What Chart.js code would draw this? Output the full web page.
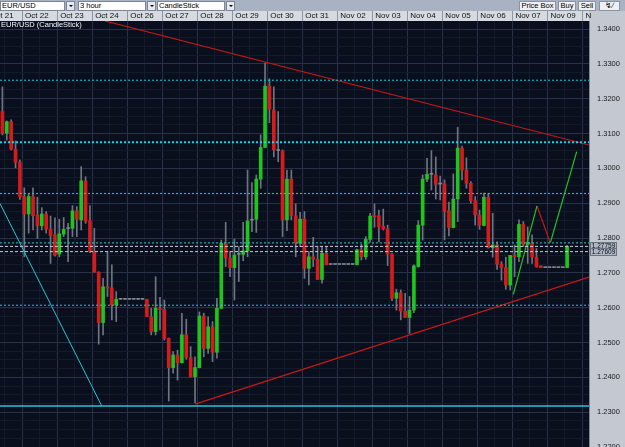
<!DOCTYPE html>
<html>
<head>
<meta charset="utf-8">
<script src="https://cdn.jsdelivr.net/npm/chart.js@4.4.1/dist/chart.umd.min.js"></script>
<style>
  body { margin: 0; width: 625px; height: 447px; overflow: hidden; background: #c3c8d1; font-family: "Liberation Sans", Arial, sans-serif; }
  #toolbar { position: absolute; left: 0; top: 0; width: 625px; height: 11px; background: #a9b2c2; }
  .combo { position: absolute; top: 1px; height: 10px; background: #fff; border: 1px solid #7d8698; box-sizing: border-box; font-size: 7.5px; line-height: 8px; padding-left: 1px; color: #000; white-space: nowrap; }
  .arrow { position: absolute; top: 1px; width: 9px; height: 10px; background: #e6e9ee; border: 1px solid #7d8698; box-sizing: border-box; }
  .arrow:after { content: ''; position: absolute; left: 2px; top: 3px; border-left: 2px solid transparent; border-right: 2px solid transparent; border-top: 2px solid #000; }
  .btn { position: absolute; top: 1px; height: 10px; background: #eef0f4; border: 1px solid #8a93a4; box-sizing: border-box; font-size: 7.5px; line-height: 8px; text-align: center; color: #000; white-space: nowrap; }
  #wrap { position: absolute; left: 0; top: 11px; width: 625px; height: 436px; }
  #caption { position: absolute; left: 1px; top: 21px; font-size: 7.5px; line-height: 8px; color: #f2f4f8; white-space: nowrap; }
</style>
</head>
<body>
<div id="toolbar">
  <div class="combo" style="left:0;width:65px">EUR/USD</div><div class="arrow" style="left:66px"></div>
  <div class="combo" style="left:78px;width:68px">3 hour</div><div class="arrow" style="left:147px"></div>
  <div class="combo" style="left:157px;width:68px">CandleStick</div><div class="arrow" style="left:226px"></div>
  <div class="btn" style="left:519px;width:37px">Price Box</div>
  <div class="btn" style="left:558px;width:18px">Buy</div>
  <div class="btn" style="left:578px;width:18px">Sell</div>
  <div class="btn" style="left:599px;width:21px">&#8623;&#8725;</div>
</div>
<div id="wrap"><canvas id="chart" width="625" height="436"></canvas></div>
<div id="caption">EUR/USD (CandleStick)</div>
<script>
// 3-hour candles, EUR/USD
const opens = [
  1.3163, 1.3101, 1.3134, 1.3055, 1.3017, 1.2919, 1.2869, 1.2919, 1.2866, 1.2835,
  1.2869, 1.2826, 1.2809, 1.2754, 1.2811, 1.2827, 1.2828, 1.2878, 1.2852, 1.2964,
  1.2850, 1.2761, 1.2702, 1.2557, 1.2660, 1.2657, 1.2608, 1.2624, 1.2624, 1.2624,
  1.2624, 1.2624, 1.2624, 1.2624, 1.2574, 1.2531, 1.2598, 1.2595, 1.2512, 1.2428,
  1.2464, 1.2442, 1.2522, 1.2457, 1.2402, 1.2428, 1.2576, 1.2483, 1.2545, 1.2472,
  1.2598, 1.2785, 1.2742, 1.2715, 1.2753, 1.2753, 1.2763, 1.2851, 1.2854, 1.2969,
  1.3060, 1.3236, 1.3168, 1.3051, 1.3050, 1.2852, 1.2969, 1.2864, 1.2785, 1.2854,
  1.2713, 1.2746, 1.2739, 1.2681, 1.2756, 1.2724, 1.2724, 1.2724, 1.2724, 1.2724,
  1.2724, 1.2723, 1.2766, 1.2746, 1.2796, 1.2863, 1.2864, 1.2834, 1.2826, 1.2754,
  1.2627, 1.2643, 1.2590, 1.2572, 1.2593, 1.2718, 1.2837, 1.2969, 1.2983, 1.2981,
  1.2955, 1.2955, 1.2878, 1.2830, 1.2912, 1.3058, 1.2995, 1.2957, 1.2907, 1.2866,
  1.2836, 1.2917, 1.2772, 1.2780, 1.2725, 1.2715, 1.2665, 1.2750, 1.2746, 1.2839,
  1.2782, 1.2785, 1.2745, 1.2720, 1.2715, 1.2715, 1.2715, 1.2715, 1.2715, 1.2715
];
const highs = [
  1.3234, 1.3136, 1.3139, 1.3079, 1.3024, 1.2944, 1.2926, 1.2944, 1.2917, 1.2887,
  1.2876, 1.2863, 1.2858, 1.2854, 1.2859, 1.2842, 1.2893, 1.2890, 1.3005, 1.2976,
  1.2893, 1.2828, 1.2703, 1.2684, 1.2761, 1.2723, 1.2646, 1.2624, 1.2624, 1.2624,
  1.2624, 1.2624, 1.2624, 1.2624, 1.2598, 1.2689, 1.2630, 1.2622, 1.2513, 1.2474,
  1.2478, 1.2584, 1.2567, 1.2488, 1.2459, 1.2588, 1.2584, 1.2574, 1.2560, 1.2627,
  1.2794, 1.2845, 1.2761, 1.2797, 1.2775, 1.2845, 1.2995, 1.2959, 1.2981, 1.3096,
  1.3302, 1.3257, 1.3234, 1.3163, 1.3053, 1.2995, 1.2995, 1.2898, 1.2874, 1.2876,
  1.2761, 1.2802, 1.2775, 1.2775, 1.2775, 1.2724, 1.2724, 1.2724, 1.2724, 1.2724,
  1.2724, 1.2768, 1.2782, 1.2804, 1.2871, 1.2898, 1.2880, 1.2883, 1.2837, 1.2755,
  1.2653, 1.2651, 1.2641, 1.2632, 1.2723, 1.2850, 1.2981, 1.3029, 1.3051, 1.3033,
  1.2978, 1.2967, 1.2903, 1.2984, 1.3118, 1.3064, 1.3030, 1.2962, 1.2919, 1.2880,
  1.2929, 1.2928, 1.2871, 1.2789, 1.2732, 1.2745, 1.2750, 1.2780, 1.2852, 1.2847,
  1.2832, 1.2809, 1.2770, 1.2720, 1.2715, 1.2715, 1.2715, 1.2715, 1.2715, 1.2778
];
const lows = [
  1.3096, 1.3081, 1.3053, 1.3002, 1.2911, 1.2746, 1.2814, 1.2823, 1.2799, 1.2823,
  1.2814, 1.2727, 1.2748, 1.2746, 1.2804, 1.2732, 1.2804, 1.2804, 1.2823, 1.2842,
  1.2758, 1.2702, 1.2495, 1.2522, 1.2632, 1.2565, 1.2560, 1.2624, 1.2624, 1.2624,
  1.2624, 1.2624, 1.2624, 1.2574, 1.2522, 1.2522, 1.2536, 1.2507, 1.2332, 1.2412,
  1.2392, 1.2441, 1.2452, 1.2401, 1.2327, 1.2427, 1.2459, 1.2469, 1.2445, 1.2455,
  1.2597, 1.2718, 1.2689, 1.2622, 1.2675, 1.2735, 1.2746, 1.2818, 1.2816, 1.2943,
  1.3059, 1.3131, 1.3033, 1.3019, 1.2804, 1.2821, 1.2852, 1.2746, 1.2775, 1.2684,
  1.2665, 1.2718, 1.2681, 1.2670, 1.2723, 1.2724, 1.2724, 1.2724, 1.2724, 1.2724,
  1.2724, 1.2723, 1.2737, 1.2739, 1.2789, 1.2831, 1.2789, 1.2823, 1.2721, 1.2620,
  1.2593, 1.2565, 1.2572, 1.2526, 1.2586, 1.2716, 1.2794, 1.2962, 1.2938, 1.2912,
  1.2909, 1.2794, 1.2806, 1.2829, 1.2847, 1.2967, 1.2943, 1.2900, 1.2837, 1.2825,
  1.2835, 1.2771, 1.2745, 1.2710, 1.2679, 1.2653, 1.2651, 1.2689, 1.2732, 1.2775,
  1.2727, 1.2727, 1.2716, 1.2715, 1.2715, 1.2715, 1.2715, 1.2715, 1.2715, 1.2715
];
const closes = [
  1.3101, 1.3134, 1.3055, 1.3017, 1.2919, 1.2869, 1.2919, 1.2864, 1.2835, 1.2869,
  1.2826, 1.2807, 1.2751, 1.2812, 1.2825, 1.2827, 1.2878, 1.2854, 1.2964, 1.2849,
  1.2761, 1.2702, 1.2557, 1.2660, 1.2656, 1.2608, 1.2624, 1.2624, 1.2624, 1.2624,
  1.2624, 1.2624, 1.2624, 1.2574, 1.2531, 1.2598, 1.2595, 1.2512, 1.2428, 1.2464,
  1.2442, 1.2522, 1.2457, 1.2402, 1.2428, 1.2576, 1.2483, 1.2545, 1.2472, 1.2598,
  1.2785, 1.2742, 1.2715, 1.2751, 1.2753, 1.2763, 1.2849, 1.2851, 1.2969, 1.3060,
  1.3236, 1.3170, 1.3053, 1.3051, 1.2852, 1.2969, 1.2864, 1.2785, 1.2854, 1.2713,
  1.2746, 1.2739, 1.2681, 1.2756, 1.2723, 1.2724, 1.2724, 1.2724, 1.2724, 1.2724,
  1.2724, 1.2766, 1.2746, 1.2796, 1.2863, 1.2861, 1.2832, 1.2826, 1.2754, 1.2627,
  1.2643, 1.2590, 1.2572, 1.2593, 1.2720, 1.2837, 1.2969, 1.2983, 1.2983, 1.2954,
  1.2955, 1.2876, 1.2830, 1.2912, 1.3058, 1.2995, 1.2957, 1.2907, 1.2866, 1.2837,
  1.2917, 1.2772, 1.2780, 1.2725, 1.2715, 1.2665, 1.2750, 1.2746, 1.2839, 1.2782,
  1.2787, 1.2745, 1.2718, 1.2715, 1.2715, 1.2715, 1.2715, 1.2715, 1.2715, 1.2776
];

// first candle index of each day and its header label
const dayStarts = [-3, 5, 13, 21, 29, 37, 45, 53, 61, 69, 77, 85, 93, 101, 109, 117, 125, 133];
const dayLabels = ['Oct 21', 'Oct 22', 'Oct 23', 'Oct 24', 'Oct 26', 'Oct 27', 'Oct 28', 'Oct 29', 'Oct 30',
                   'Oct 31', 'Nov 02', 'Nov 03', 'Nov 04', 'Nov 05', 'Nov 06', 'Nov 07', 'Nov 09', 'N'];

// drawn horizontal levels
const cyanLevels = [1.3253, 1.2928, 1.2786, 1.2607];
const cyanStrong = [1.3075];
const supportLevel = [1.2318];
const priceMarks = [1.27759, 1.27609];

// drawn trend lines: [candle index, price]
const upperTrend = [[23.44, 1.3423], [134, 1.3067]];
const lowerTrend = [[43.99, 1.2323], [134, 1.2688]];
const cyanTrend = [[-0.55, 1.2899], [22.68, 1.2318]];
const zigzagUp1 = [[116.71, 1.2638], [122.12, 1.2892]];
const zigzagDown = [[122.12, 1.2892], [125.16, 1.2786]];
const zigzagUp2 = [[125.16, 1.2786], [131.19, 1.3048]];

const X_MIN = -0.55, X_MAX = 134;
const Y_MIN = 1.22, Y_MAX = 1.3423;

const bodyColors = opens.map((o, i) => closes[i] > o ? '#1fc41f' : (closes[i] < o ? '#d41c1c' : '#80858f'));

function hline(level, color, width, dash) {
    return {
        type: 'line',
        data: [{ x: X_MIN, y: level }, { x: X_MAX, y: level }],
        borderColor: color, borderWidth: width, borderDash: dash,
        pointRadius: 0, fill: false, order: 0
    };
}
function segment(points, color, width) {
    return {
        type: 'line',
        data: points.map(p => ({ x: p[0], y: p[1] })),
        borderColor: color, borderWidth: width,
        pointRadius: 0, fill: false, tension: 0, order: 0
    };
}

const xTicks = [dayStarts[0] - 0.5];
for (let i = 1; i <= 133; i += 4) xTicks.push(i - 0.5);
const yTicks = [];
for (let k = 0; k <= 48; k++) yTicks.push(Math.round((Y_MIN + k * 0.0025) * 10000) / 10000);

const isDay = v => dayStarts.indexOf(Math.round(v + 0.5)) >= 0;
const isMajorY = v => Math.abs(v * 100 - Math.round(v * 100)) < 1e-6;

// no extra room around the plot: the header and price panel sit flush
function noPadding(axis) {
    axis.paddingLeft = 0;
    axis.paddingRight = 0;
    axis.paddingTop = 0;
    axis.paddingBottom = 0;
}

const panels = {
    id: 'panels',
    beforeDraw(chart) {
        const { ctx, chartArea: a, width, height } = chart;
        ctx.save();
        ctx.fillStyle = '#c3c8d1';
        ctx.fillRect(0, 0, width, height);
        ctx.fillStyle = '#d6dae1';
        ctx.fillRect(0, 0, a.right, a.top);
        ctx.fillStyle = '#0a0f1e';
        ctx.fillRect(a.left, a.top, a.right - a.left, a.bottom - a.top);
        ctx.restore();
    },
    afterDraw(chart) {
        const { ctx, chartArea: a, scales } = chart;
        ctx.save();
        ctx.font = '6.5px "Liberation Sans", Arial, sans-serif';
        ctx.textAlign = 'center';
        ctx.textBaseline = 'middle';
        priceMarks.forEach(p => {
            const y = Math.round(scales.y.getPixelForValue(p));
            ctx.fillStyle = '#aeb6c5';
            ctx.fillRect(a.right + 1, y - 4, 27, 8);
            ctx.strokeStyle = '#6c7484';
            ctx.strokeRect(a.right + 1.5, y - 3.5, 26, 7);
            ctx.fillStyle = '#101010';
            ctx.fillText(p.toFixed(5), a.right + 14.5, y + 0.5);
        });
        ctx.restore();
    }
};

new Chart(document.getElementById('chart'), {
    type: 'bar',
    data: {
        datasets: [
            hline(cyanLevels[0], '#22c8d8', 1, [2, 2]),
            hline(cyanLevels[1], '#22c8d8', 1, [2, 2]),
            hline(cyanLevels[2], '#22c8d8', 1, [2, 2]),
            hline(cyanLevels[3], '#22c8d8', 1, [2, 2]),
            hline(cyanStrong[0], '#22d0e0', 2, [2, 2]),
            hline(supportLevel[0], '#22c8d8', 1.5, []),
            hline(priceMarks[0], '#c9cdd6', 1, [3, 2]),
            hline(priceMarks[1], '#c9cdd6', 1, [3, 2]),
            segment(upperTrend, '#c81818', 1.2),
            segment(lowerTrend, '#c81818', 1.2),
            segment(cyanTrend, '#22c8d8', 1),
            segment(zigzagUp1, '#22c422', 1.2),
            segment(zigzagDown, '#c81818', 1.2),
            segment(zigzagUp2, '#22c422', 1.2),
            {
                label: 'body',
                data: opens.map((o, i) => ({ x: i, y: [o, closes[i]] })),
                backgroundColor: bodyColors,
                barThickness: 3,
                minBarLength: 1,
                grouped: false,
                order: 1
            },
            {
                label: 'wick',
                data: lows.map((l, i) => ({ x: i, y: [l, highs[i]] })),
                backgroundColor: '#6f7580',
                barThickness: 1,
                grouped: false,
                order: 2
            }
        ]
    },
    options: {
        responsive: false,
        devicePixelRatio: 1,
        animation: false,
        events: [],
        layout: { padding: 0 },
        plugins: { legend: { display: false }, tooltip: { enabled: false } },
        scales: {
            x: {
                type: 'linear',
                position: 'top',
                min: X_MIN,
                max: X_MAX,
                offset: false,
                afterBuildTicks: axis => { axis.ticks = xTicks.map(v => ({ value: v })); },
                afterFit: axis => { axis.height = 10; noPadding(axis); },
                ticks: {
                    autoSkip: false,
                    maxRotation: 0,
                    align: 'start',
                    labelOffset: 3,
                    padding: -10,
                    color: '#111',
                    font: { family: '"Liberation Sans", Arial, sans-serif', size: 8 },
                    callback: v => {
                        const k = dayStarts.indexOf(Math.round(v + 0.5));
                        return k >= 0 ? dayLabels[k] : '';
                    }
                },
                grid: {
                    offset: false,
                    drawTicks: true,
                    tickLength: 10,
                    color: ctx => isDay(ctx.tick.value) ? '#27314a' : '#131a2b',
                    tickColor: ctx => isDay(ctx.tick.value) ? '#8e95a3' : 'rgba(0,0,0,0)'
                },
                border: { display: false }
            },
            y: {
                position: 'right',
                min: Y_MIN,
                max: Y_MAX,
                afterBuildTicks: axis => { axis.ticks = yTicks.map(v => ({ value: v })); },
                afterFit: axis => { axis.width = 36; noPadding(axis); },
                ticks: {
                    autoSkip: false,
                    padding: 8,
                    color: '#1a1a1a',
                    font: { family: '"Liberation Sans", Arial, sans-serif', size: 7.5 },
                    callback: v => isMajorY(v) ? v.toFixed(4) : ''
                },
                grid: {
                    drawTicks: false,
                    color: ctx => isMajorY(ctx.tick.value) ? '#27314a' : '#131a2b'
                },
                border: { display: true, color: '#7d8698' }
            }
        }
    },
    plugins: [panels]
});
</script>
</body>
</html>
